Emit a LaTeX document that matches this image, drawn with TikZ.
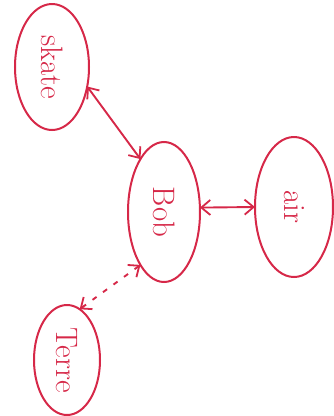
\documentclass[tikz,border=0pt]{standalone}
\usetikzlibrary{shapes.geometric,arrows.meta}
\definecolor{ink}{RGB}{214,40,72}
\tikzset{
  blob/.style={ellipse, draw=ink, line width=2pt, inner sep=0pt, outer sep=0pt, text=ink, font=\fontsize{31}{31}\selectfont},
  link/.style={draw=ink, line width=1.9pt, {Straight Barb[length=9pt,width=15pt,line width=1.8pt]}-{Straight Barb[length=9pt,width=15pt,line width=1.8pt]}},
  dotlink/.style={link, dash pattern=on 5pt off 8pt}
}
\newcommand{\vtext}[1]{\rotatebox{-90}{#1}}
\begin{document}
\begin{tikzpicture}[x=1pt,y=-1pt]
\useasboundingbox (0,0) rectangle (334,416);
\node[blob, minimum width=74pt, minimum height=126pt] (skate) at (52,67) {\vtext{skate}};
\node[blob, minimum width=72pt, minimum height=140pt] (bob) at (164,212) {\vtext{Bob}};
\node[blob, minimum width=78pt, minimum height=140pt] (air) at (294,207) {\vtext{air}};
\node[blob, minimum width=66pt, minimum height=110pt] (terre) at (67,360) {\vtext{Terre}};
\draw[link] (skate.-29) -- (bob.114);
\draw[link] (bob.7) -- (air.180);
\draw[dotlink] (bob.-114) -- (terre.76);
\end{tikzpicture}
\end{document}
